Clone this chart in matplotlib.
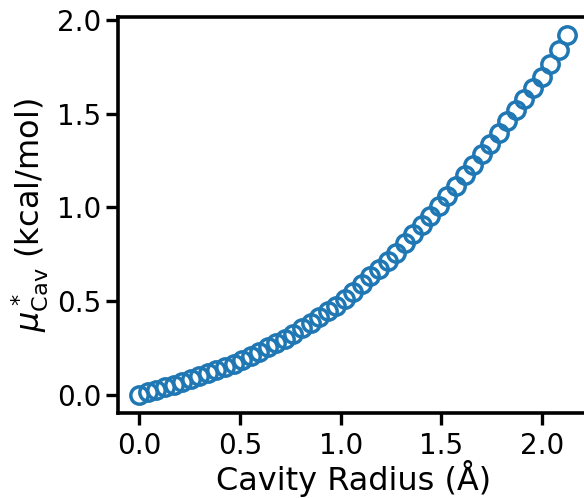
import numpy as np
import matplotlib
matplotlib.use("Agg")
import matplotlib.pyplot as plt

# cavity radius (Angstrom) and cavity chemical potential (kcal/mol)
radius = [0.0, 0.0425, 0.085, 0.1275, 0.17, 0.2125, 0.255, 0.2975, 0.34, 0.3825,
          0.425, 0.4675, 0.51, 0.5525, 0.595, 0.6375, 0.68, 0.7225, 0.765, 0.8075,
          0.85, 0.8925, 0.935, 0.9775, 1.02, 1.0625, 1.105, 1.1475, 1.19, 1.2325,
          1.275, 1.3175, 1.36, 1.4025, 1.445, 1.4875, 1.53, 1.5725, 1.615, 1.6575,
          1.7, 1.7425, 1.785, 1.8275, 1.87, 1.9125, 1.955, 1.9975, 2.04, 2.0825, 2.125]
mu_cav = [0.0, 0.014, 0.027, 0.041, 0.054, 0.068, 0.082, 0.099, 0.116, 0.133,
          0.150, 0.167, 0.185, 0.208, 0.231, 0.254, 0.277, 0.300, 0.326, 0.355,
          0.385, 0.415, 0.445, 0.474, 0.509, 0.550, 0.591, 0.632, 0.672, 0.713,
          0.759, 0.808, 0.858, 0.907, 0.956, 1.006, 1.060, 1.116, 1.172, 1.228,
          1.284, 1.340, 1.399, 1.459, 1.518, 1.578, 1.637, 1.697, 1.765, 1.840, 1.920]

fig = plt.figure(figsize=(5.84, 4.98), dpi=100)
ax = fig.add_axes([0.202, 0.171, 0.806, 0.795])

ax.plot(radius, mu_cav, 'o', markerfacecolor='none', markeredgecolor='#1f77b4',
        markersize=12.5, markeredgewidth=2.5)

ax.set_xticks([0.0, 0.5, 1.0, 1.5, 2.0])
ax.set_yticks([0.0, 0.5, 1.0, 1.5, 2.0])
ax.set_xlabel('Cavity Radius (Å)', fontsize=23, labelpad=0)
ax.set_ylabel(r'$\mu^*_{\rm Cav}$ (kcal/mol)', fontsize=23, labelpad=4)

for spine in ax.spines.values():
    spine.set_linewidth(2.6)
ax.tick_params(labelsize=20, length=8.5, width=2.4)
ax.tick_params(axis='x', pad=5)
ax.tick_params(axis='y', pad=3.5)

fig.savefig('out.png', dpi=100)
